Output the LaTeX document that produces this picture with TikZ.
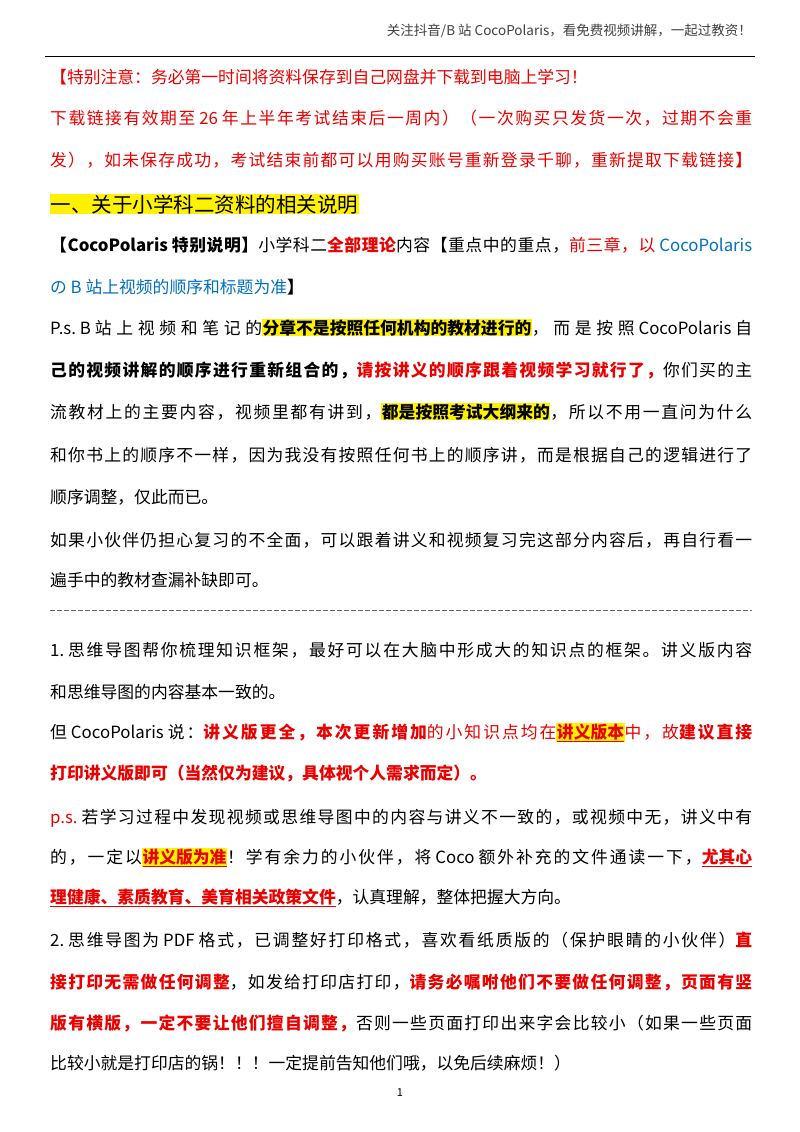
\documentclass[tikz,border=0pt]{standalone}
\usepackage{fontspec}
\setmainfont{Noto Sans CJK SC}
\XeTeXinterchartokenstate=1
\newXeTeXintercharclass\cjkc
\newcount\mycnt
\mycnt="4E00 \loop \XeTeXcharclass\mycnt=\cjkc \ifnum\mycnt<"9FFF \advance\mycnt 1 \repeat
\mycnt="3000 \loop \XeTeXcharclass\mycnt=\cjkc \ifnum\mycnt<"30FF \advance\mycnt 1 \repeat
\mycnt="FF00 \loop \XeTeXcharclass\mycnt=\cjkc \ifnum\mycnt<"FFEF \advance\mycnt 1 \repeat
\XeTeXinterchartoks\cjkc\cjkc={\hskip0pt plus 3pt\relax}
\XeTeXinterchartoks\cjkc 0={\hskip0pt plus 3pt\relax}
\XeTeXinterchartoks 0\cjkc={\hskip0pt plus 3pt\relax}
\definecolor{myblue}{RGB}{0,112,192}
\definecolor{myred}{RGB}{235,0,0}
\newcommand\hlx[1]{{\setlength{\fboxsep}{0.5pt}\colorbox{yellow}{#1}}}
\newcommand\Rx[1]{\textcolor{myred}{#1}}
\newcommand\RBx[1]{\textcolor{myred}{\bfseries #1}}
\newcommand\RUx[1]{\textcolor{myred}{\bfseries\underline{#1}}}
\newcommand\fl[1]{\makebox[702pt][s]{\spaceskip=4pt\relax\xspaceskip=4pt\relax #1}}
\begin{document}
\begin{tikzpicture}[x=1pt,y=-1pt,
  ln/.style={anchor=base west,inner sep=0pt,font=\fontsize{16.8}{20}\selectfont}]
\useasboundingbox (0,0) rectangle (800,1132);
\fill[white] (0,0) rectangle (800,1132);
\node[anchor=base east,inner sep=0pt,font=\fontsize{13.5}{16}\selectfont,text=black!75] (hd) at (752,36) {关注抖音/B 站 CocoPolaris，看免费视频讲解，一起过教资！};
\coordinate (hl1) at (45,56); \coordinate (hl2) at (755,56);
\draw[line width=0.8pt] (hl1) -- (hl2);
\node[ln,text=myred] (l1) at (50,83) {【特别注意：务必第一时间将资料保存到自己网盘并下载到电脑上学习！};
\node[ln,text=myred] (l2) at (50,124) {\fl{下载链接有效期至 26 年上半年考试结束后一周内）（一次购买只发货一次，过期不会重}};
\node[ln,text=myred] (l3) at (50,166) {\fl{发），如未保存成功，考试结束前都可以用购买账号重新登录千聊，重新提取下载链接】}};
\node[ln,font=\fontsize{20.5}{24}\selectfont] (l4) at (50,212) {\hlx{一、关于小学科二资料的相关说明}};
\node[ln] (l5) at (50,251) {\fl{\textbf{【CocoPolaris 特别说明】}小学科二\RBx{全部理论}内容【重点中的重点，\Rx{前三章，以 }\textcolor{myblue}{CocoPolaris}}};
\node[ln] (l6) at (50,293) {\textcolor{myblue}{の B 站上视频的顺序和标题为准}\textbf{】}};
\node[ln] (l7) at (50,334) {\fl{P.s. B 站上视频和笔记的\hlx{\bfseries 分章不是按照任何机构的教材进行的}，而是按照 CocoPolaris 自}};
\node[ln] (l8) at (50,376) {\fl{\textbf{己的视频讲解的顺序进行重新组合的，}\RBx{请按讲义的顺序跟着视频学习就行了，}你们买的主}};
\node[ln] (l9) at (50,418) {\fl{流教材上的主要内容，视频里都有讲到，\hlx{\bfseries 都是按照考试大纲来的}，所以不用一直问为什么}};
\node[ln] (l10) at (50,461) {\fl{和你书上的顺序不一样，因为我没有按照任何书上的顺序讲，而是根据自己的逻辑进行了}};
\node[ln] (l11) at (50,503) {顺序调整，仅此而已。};
\node[ln] (l12) at (50,546) {\fl{如果小伙伴仍担心复习的不全面，可以跟着讲义和视频复习完这部分内容后，再自行看一}};
\node[ln] (l13) at (50,586) {遍手中的教材查漏补缺即可。};
\coordinate (d1) at (50,610); \coordinate (d2) at (752,610);
\draw[black!60,dash pattern=on 5pt off 2pt] (d1) -- (d2);
\node[ln] (l14) at (50,656) {\fl{1. 思维导图帮你梳理知识框架，最好可以在大脑中形成大的知识点的框架。讲义版内容}};
\node[ln] (l15) at (50,698) {和思维导图的内容基本一致的。};
\node[ln] (l16) at (50,738) {\fl{但 CocoPolaris 说：\RBx{讲义版更全，本次更新增加}\Rx{的小知识点均在}\hlx{\RUx{讲义版本}}\Rx{中，故}\RBx{建议直接}}};
\node[ln] (l17) at (50,779) {\RBx{打印讲义版即可（当然仅为建议，具体视个人需求而定）。}};
\node[ln] (l18) at (50,823) {\fl{\Rx{p.s.} 若学习过程中发现视频或思维导图中的内容与讲义不一致的，或视频中无，讲义中有}};
\node[ln] (l19) at (50,863) {\fl{的，一定以\hlx{\RUx{讲义版为准}}！学有余力的小伙伴，将 Coco 额外补充的文件通读一下，\RUx{尤其心}}};
\node[ln] (l20) at (50,903) {\RUx{理健康、素质教育、美育相关政策文件}，认真理解，整体把握大方向。};
\node[ln] (l21) at (50,946) {\fl{2. 思维导图为 PDF 格式，已调整好打印格式，喜欢看纸质版的（保护眼睛的小伙伴）\RBx{直}}};
\node[ln] (l22) at (50,988) {\fl{\RBx{接打印无需做任何调整}，如发给打印店打印，\RBx{请务必嘱咐他们不要做任何调整，页面有竖}}};
\node[ln] (l23) at (50,1029) {\fl{\RBx{版有横版，一定不要让他们擅自调整，}否则一些页面打印出来字会比较小（如果一些页面}};
\node[ln] (l24) at (50,1069) {比较小就是打印店的锅！！！一定提前告知他们哦，以免后续麻烦！）};
\node[anchor=base,inner sep=0pt,font=\fontsize{11}{13}\selectfont] (pg) at (400,1096) {1};
\end{tikzpicture}
\end{document}
